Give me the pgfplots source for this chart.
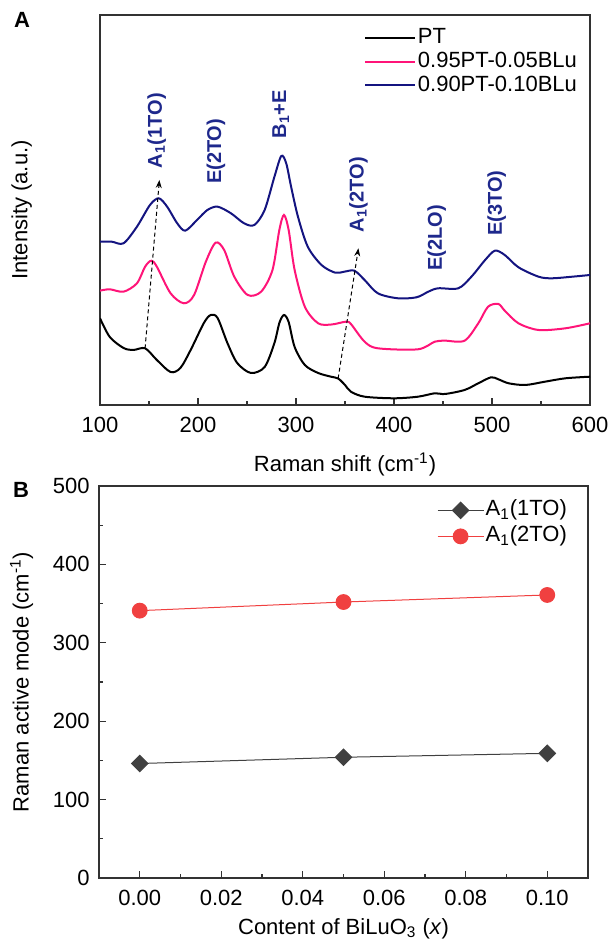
\documentclass[border=0pt]{standalone}
\usepackage{fontspec}
\setmainfont{Liberation Sans}
\usepackage{pgfplots}
\pgfplotsset{compat=1.18}
\usetikzlibrary{arrows.meta}
\definecolor{pinkc}{RGB}{255,20,120}
\definecolor{navyc}{RGB}{20,20,128}
\definecolor{lblc}{RGB}{30,40,140}
\definecolor{axc}{RGB}{50,50,50}
\definecolor{redc}{RGB}{240,64,64}
\definecolor{grayc}{RGB}{64,64,64}
\pgfplotsset{common/.style={
  scale only axis,
  axis line style={axc, line width=0.6pt},
  tick style={axc, line width=0.6pt},
  tick align=inside, tick pos=left,
  major tick length=3.5pt, minor tick length=2pt,
  /pgf/number format/assume math mode=true,
  ticklabel style={font=\fontsize{11}{13}\selectfont},
  label style={font=\fontsize{11}{13}\selectfont},
  xticklabel style={inner sep=0pt, yshift=-5.75pt},
  yticklabel style={inner sep=0pt, xshift=-4.5pt},
}}
\begin{document}
\begin{tikzpicture}
\path[use as bounding box] (0,0) rectangle (304.5pt,472.5pt);
% Panel A
\begin{axis}[common,
  at={(50pt,270pt)}, anchor=south west,
  width=245pt, height=195pt,
  xmin=100, xmax=600, ymin=0, ymax=390,
  xtick={100,200,...,600}, minor x tick num=1,
  ytick=\empty,
  xlabel={Raman shift (cm\textsuperscript{-1})},
  ylabel={Intensity (a.u.)},
  xlabel style={at={(axis description cs:0.5,-0.12)}, anchor=north, inner sep=0pt},
  ylabel style={at={(axis description cs:-0.137,0.5)}, anchor=south, inner sep=0pt},
  legend cell align=left,
  legend style={draw=none, fill=none, inner sep=0pt, row sep=0pt,
    font=\fontsize{11}{13}\selectfont,
    at={(axis description cs:0.537,0.974)}, anchor=north west,
    nodes={text height=8pt, text depth=2pt, inner sep=0.9pt},
    /tikz/every even column/.append style={column sep=2.6pt}},
  legend image code/.code={\draw[#1] (0pt,0pt) -- (25pt,0pt);},
  line width=1pt,
]
\addplot[black, smooth, tension=0.5] coordinates {(100,86.7)(110,68)(124,57)(134,55)(146,56.7)(158,45)(172,33)(182,37)(192.5,55)(206,82)(213,90)(220,87)(230,62)(240,42)(254,32)(268,38)(278,62)(283,82)(287.7,90)(292.5,83)(298.6,58)(309,40)(322.6,32)(335.6,28.3)(343,26.5)(350,20)(356,13.3)(370,8.3)(400,6.7)(424.5,8.3)(441.6,11.7)(452,11)(472,15)(486,21.7)(499,27.7)(506.5,25.7)(517,21.7)(534,20)(554,23.3)(575,26.7)(600,28.3)};
\addlegendentry{PT}
\addplot[pinkc, smooth, tension=0.5] coordinates {(100,114.3)(110,115.7)(124,113.3)(137.7,121.7)(146,138.3)(152.4,144.3)(158,138.3)(172,111.7)(185.6,101.7)(196,110)(208,143.3)(218,162.3)(226.7,155)(237,128.3)(250.7,110)(264.4,113.3)(276,135)(283,175)(287.7,190)(292.5,175)(298.6,135)(309,98.3)(322.6,81.7)(336.3,80.5)(351,83.3)(356,81)(370,63.3)(383.5,56.7)(424.5,55.7)(441.6,63.3)(452,64.3)(472,64.3)(486,81.7)(496,98.3)(506.5,101)(513,94.3)(527,81.7)(547.5,75)(575,76.7)(600,81.7)};
\addlegendentry{0.95PT-0.05BLu}
\addplot[navyc, smooth, tension=0.5] coordinates {(100,163.3)(112,163.3)(124,161.7)(137.7,178.3)(151,200)(160,206.7)(168.5,198.3)(178.8,181.7)(187,174.3)(199,185)(209.6,195)(220,198.3)(233.6,191.7)(247,181.7)(257.5,180)(268,195)(278,228.3)(285,249)(290,241.7)(295,218.3)(302,188.3)(312,158.3)(326,140)(340,132.3)(349.3,133.3)(359.6,134.3)(370,125)(383.5,111.7)(404,106.7)(423,107.7)(435,113.3)(445,116.7)(465.6,116.7)(479,128.3)(493,145)(503,154.3)(513,150)(527,137.7)(547.5,128.3)(561,126.7)(582,128.3)(600,130)};
\addlegendentry{0.90PT-0.10BLu}
\addplot[black, line width=0.5pt, dash pattern=on 2pt off 1.5pt, -{Stealth[length=4pt,width=3pt]}, forget plot] coordinates {(146,56.7) (160.6,225)};
\addplot[black, line width=0.5pt, dash pattern=on 2pt off 1.5pt, -{Stealth[length=4pt,width=3pt]}, forget plot] coordinates {(343,26.5) (363.7,156.7)};
\begin{scope}[every node/.style={rotate=90, anchor=west, inner sep=0pt, font=\bfseries\fontsize{10}{12}\selectfont, text=lblc}]
\node at (axis cs:157.9,235.7) {A\textsubscript{1}(1TO)};
\node at (axis cs:218.4,220) {E(2TO)};
\node at (axis cs:284.4,265.7) {B\textsubscript{1}+E};
\node at (axis cs:363.6,171.7) {A\textsubscript{1}(2TO)};
\node at (axis cs:443.6,133.3) {E(2LO)};
\node at (axis cs:504.8,168.3) {E(3TO)};
\end{scope}
\end{axis}
% Panel B
\begin{axis}[common,
  at={(49.5pt,33.5pt)}, anchor=south west,
  width=244.5pt, height=196pt,
  xmin=-0.01, xmax=0.11, ymin=0, ymax=500,
  xtick={0,0.02,...,0.1}, minor x tick num=1,
  ytick={0,100,...,500}, minor y tick num=1,
  scaled x ticks=false,
  xticklabel style={/pgf/number format/.cd, fixed, fixed zerofill, precision=2},
  xlabel={Content of BiLuO\textsubscript{3} (\textit{x})},
  ylabel={Raman active mode (cm\textsuperscript{-1})},
  xlabel style={at={(axis description cs:0.5,-0.102)}, anchor=north, inner sep=0pt},
  ylabel style={at={(axis description cs:-0.134,0.5)}, anchor=south, inner sep=0pt},
  legend cell align=left,
  legend style={draw=none, fill=none, inner sep=0pt, row sep=0pt,
    font=\fontsize{11}{13}\selectfont,
    at={(axis description cs:0.6906,0.972)}, anchor=north west,
    nodes={text height=8.5pt, text depth=3pt, inner sep=0.75pt},
    /tikz/every even column/.append style={column sep=1.75pt}},
  legend image code/.code={\draw[mark repeat=2, mark phase=2, #1] plot coordinates {(0pt,0pt) (11.5pt,0pt) (23pt,0pt)};},
]
\addplot[grayc, line width=0.5pt, mark=square*, mark size=2.9pt, mark options={rotate=45, fill=grayc, draw=grayc}] coordinates {(0,146) (0.05,154) (0.1,159)};
\addlegendentry{A\textsubscript{1}(1TO)}
\addplot[redc, line width=0.5pt, mark=*, mark size=3.7pt, mark options={fill=redc, draw=redc}] coordinates {(0,341) (0.05,352) (0.1,361)};
\addlegendentry{A\textsubscript{1}(2TO)}
\end{axis}
\node[font=\bfseries\fontsize{11}{13}\selectfont] at (11pt,462.5pt) {A};
\node[font=\bfseries\fontsize{11}{13}\selectfont] at (10.5pt,227.5pt) {B};
\end{tikzpicture}
\end{document}
